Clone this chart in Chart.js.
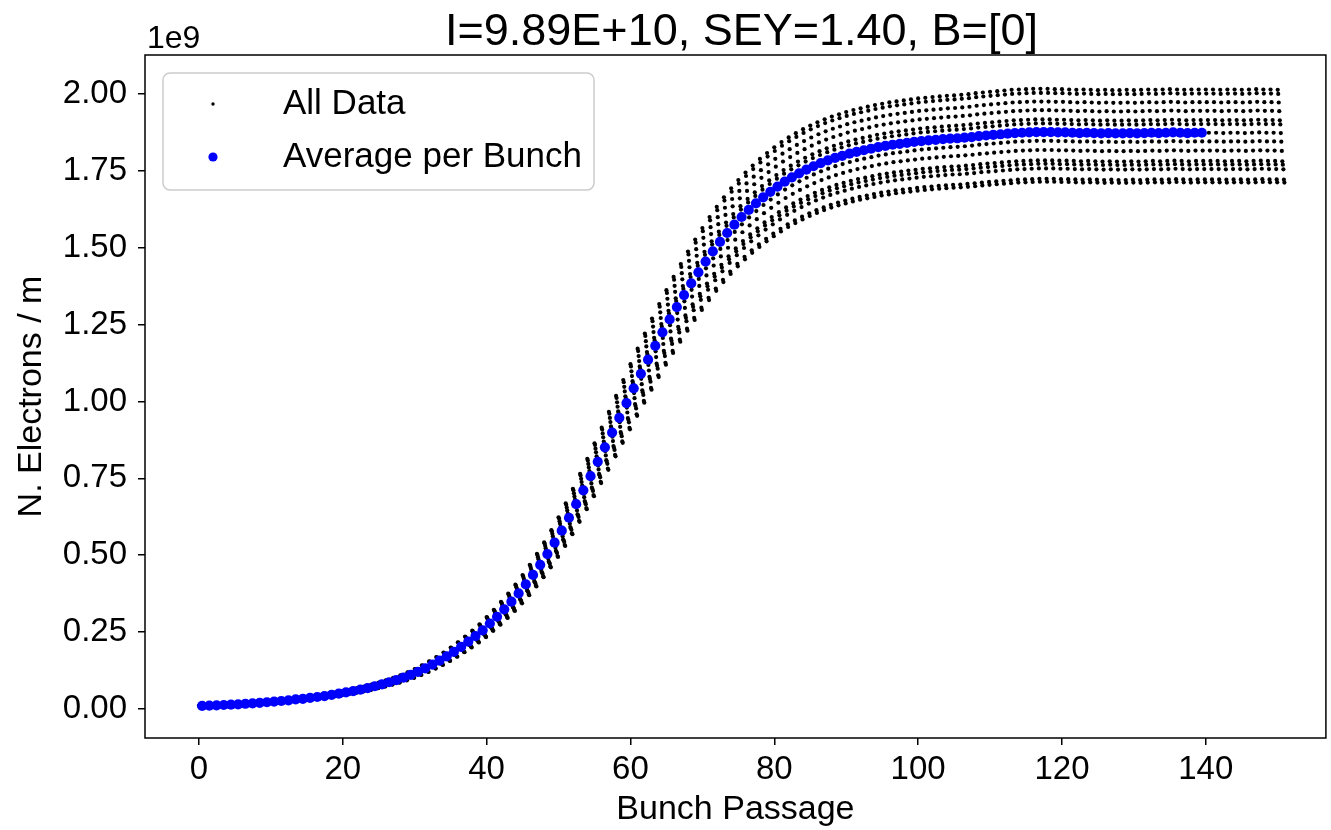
<!DOCTYPE html>
<html>
<head>
<meta charset="utf-8">
<script src="https://cdn.jsdelivr.net/npm/chart.js@4.4.0/dist/chart.umd.min.js"></script>
<style>
  html, body { margin: 0; padding: 0; background: #ffffff; }
</style>
</head>
<body>
<canvas id="ecloud" width="1331" height="830"></canvas>
<script>
const titleText = 'I=9.89E+10, SEY=1.40, B=[0]';
const xTicks = [0, 20, 40, 60, 80, 100, 120, 140];
const yTicks = [0, 0.25e9, 0.5e9, 0.75e9, 1.0e9, 1.25e9, 1.5e9, 1.75e9, 2.0e9];

// average electrons per bunch passage, 1e9 / m, bunch 0..139
const avgPerBunch = [
  0.010, 0.011, 0.012, 0.013, 0.014, 0.015, 0.017, 0.018, 0.020, 0.022,
  0.024, 0.026, 0.028, 0.031, 0.033, 0.036, 0.039, 0.042, 0.046, 0.050,
  0.054, 0.058, 0.063, 0.068, 0.074, 0.080, 0.087, 0.094, 0.102, 0.111,
  0.121, 0.132, 0.144, 0.157, 0.171, 0.186, 0.202, 0.219, 0.237, 0.256,
  0.278, 0.300, 0.324, 0.349, 0.376, 0.405, 0.436, 0.469, 0.504, 0.541,
  0.580, 0.622, 0.666, 0.711, 0.757, 0.804, 0.851, 0.899, 0.947, 0.995,
  1.043, 1.090, 1.136, 1.181, 1.225, 1.267, 1.307, 1.346, 1.384, 1.420,
  1.455, 1.488, 1.519, 1.548, 1.575, 1.600, 1.623, 1.644, 1.664, 1.682,
  1.699, 1.715, 1.729, 1.742, 1.754, 1.765, 1.775, 1.784, 1.792, 1.799,
  1.806, 1.812, 1.817, 1.822, 1.827, 1.831, 1.835, 1.838, 1.841, 1.844,
  1.847, 1.849, 1.851, 1.853, 1.855, 1.856, 1.858, 1.860, 1.863, 1.865,
  1.867, 1.869, 1.871, 1.873, 1.874, 1.875, 1.876, 1.876, 1.876, 1.875,
  1.875, 1.874, 1.873, 1.874, 1.873, 1.872, 1.873, 1.872, 1.872, 1.873,
  1.872, 1.873, 1.874, 1.873, 1.874, 1.875, 1.874, 1.873, 1.874, 1.874
];
// centre level of the raw data after the average stops, bunch 140..150
const lateLevel = [1.874, 1.874, 1.873, 1.874, 1.874, 1.873, 1.874, 1.875, 1.874, 1.874, 1.873];
// level of each sample inside one passage relative to the centre (read at saturation)
const sliceRatio = [1.075, 1.068, 1.053, 1.038, 1.022, 1.015, 1.000,
                    0.985, 0.969, 0.951, 0.945, 0.937, 0.919, 0.914];
// where each sample sits inside the passage, in bunch units
const sliceShift = [0, 0.07, 0.14, 0.21, 0.29, 0.36, 0.43, 0.5, 0.57, 0.64, 0.71, 0.79, 0.86, 0.93];
const avgShift = 0.45;

const FONT = '"Liberation Sans", Arial, sans-serif';

const level = avgPerBunch.concat(lateLevel);
const allData = [];
level.forEach((v, i) => {
    sliceRatio.forEach((r, j) => allData.push({ x: i + sliceShift[j], y: v * r * 1e9 }));
});
const avgData = avgPerBunch.map((v, i) => ({ x: i + avgShift, y: v * 1e9 }));

const decorations = {
    id: 'decorations',
    afterDraw: (chart) => {
        const { ctx, chartArea: a } = chart;
        ctx.save();
        ctx.strokeStyle = '#000';
        ctx.lineWidth = 1.5;
        ctx.strokeRect(a.left, a.top, a.right - a.left, a.bottom - a.top);

        ctx.fillStyle = '#000';
        ctx.font = '45px ' + FONT;
        ctx.textAlign = 'center';
        ctx.textBaseline = 'alphabetic';
        ctx.fillText(titleText, (a.left + a.right) / 2 + 6, 45);

        ctx.font = '32px ' + FONT;
        ctx.textAlign = 'left';
        ctx.fillText('1e9', a.left + 2, 48);

        // legend box
        const lx = a.left + 18, ly = a.top + 18;
        ctx.beginPath();
        ctx.roundRect(lx, ly, 431, 117, 7);
        ctx.fillStyle = 'rgba(255,255,255,0.8)';
        ctx.fill();
        ctx.strokeStyle = '#cccccc';
        ctx.lineWidth = 1.5;
        ctx.stroke();

        const rows = ['All Data', 'Average per Bunch'];
        rows.forEach((name, k) => {
            const ds = chart.data.datasets.find(d => d.label === name);
            const yy = ly + 31 + k * 53;
            ctx.beginPath();
            ctx.arc(lx + 50, yy, name === 'All Data' ? 1.7 : 4.6, 0, Math.PI * 2);
            ctx.fillStyle = ds.backgroundColor;
            ctx.fill();
            ctx.fillStyle = '#000';
            ctx.font = '35px ' + FONT;
            ctx.textBaseline = 'middle';
            ctx.fillText(name, lx + 120, yy);
        });
        ctx.restore();
    }
};

const tickGrid = { display: true, drawOnChartArea: false, drawTicks: true, tickLength: 7, color: '#000', lineWidth: 1.5 };

new Chart(document.getElementById('ecloud'), {
    type: 'scatter',
    data: {
        datasets: [
            { label: 'Average per Bunch', data: avgData, backgroundColor: '#0000ff', pointRadius: 5.1, borderWidth: 0, order: 0 },
            { label: 'All Data', data: allData, backgroundColor: '#000000', pointRadius: 2.1, borderWidth: 0, order: 1 }
        ]
    },
    options: {
        responsive: false,
        animation: false,
        events: [],
        layout: { padding: { top: 55, right: 3, left: 0, bottom: 0 } },
        scales: {
            x: {
                type: 'linear',
                min: -7.5,
                max: 156.7,
                afterBuildTicks: (s) => { s.ticks = xTicks.map(v => ({ value: v })); },
                afterFit: (s) => { s.height = 92; },
                grid: tickGrid,
                border: { display: false },
                ticks: { color: '#000', font: { family: FONT, size: 33 }, padding: 5, maxRotation: 0, callback: (v) => String(v) },
                title: { display: true, text: 'Bunch Passage', color: '#000', font: { family: FONT, size: 34 }, padding: 0 }
            },
            y: {
                type: 'linear',
                min: -0.0943e9,
                max: 2.1268e9,
                afterBuildTicks: (s) => { s.ticks = yTicks.map(v => ({ value: v })); },
                afterFit: (s) => { s.width = 145; },
                grid: tickGrid,
                border: { display: false },
                ticks: { color: '#000', font: { family: FONT, size: 33 }, padding: 11, callback: (v) => (v / 1e9).toFixed(2) },
                title: { display: true, text: 'N. Electrons / m', color: '#000', font: { family: FONT, size: 34 }, padding: { top: 11, bottom: 0 } }
            }
        },
        plugins: {
            legend: { display: false },
            tooltip: { enabled: false },
            title: { display: false }
        }
    },
    plugins: [decorations]
});
</script>
</body>
</html>
